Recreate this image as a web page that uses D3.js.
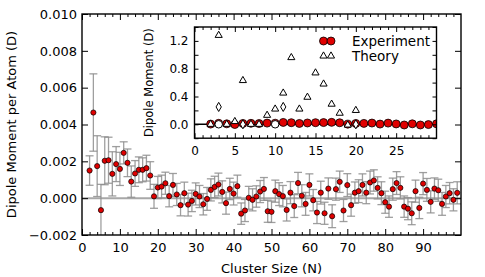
<!DOCTYPE html>
<html>
<head>
<meta charset="utf-8">
<script src="https://cdnjs.cloudflare.com/ajax/libs/d3/7.8.5/d3.min.js"></script>
<style>
  body { margin: 0; background: #fff; }
  svg { display: block; font-family: "DejaVu Sans", sans-serif; }
  .tick line { stroke: #000; stroke-width: 1; }
  .domain { display: none; }
</style>
</head>
<body>
<script>
var width = 485, height = 277

// main panel data (dipole per atom in units of 10^-3 D)
var clusterSize = [2,3,4,5,6,7,8,9,10,11,12,13,14,15,16,17,18,19,20,21,22,23,24,25,26,27,28,29,30,
  31,32,33,34,35,36,37,38,39,40,41,42,43,44,45,46,47,48,49,50,51,52,53,54,55,56,57,58,59,60,
  61,62,63,64,65,66,67,68,69,70,71,72,73,74,75,76,77,78,79,80,81,82,83,84,85,86,87,88,89,90,
  91,92,93,94,95,96,97,98,99]
var dipolePerAtom = [1.50,4.65,1.74,-0.65,2.03,2.06,1.32,1.85,1.59,2.46,1.92,0.90,1.34,1.54,1.54,1.63,1.23,0.10,0.58,
  0.63,0.81,0.11,0.72,0.20,-0.38,0.27,-0.35,-0.15,0.23,
  0.09,-0.33,-0.04,0.45,0.61,0.74,0.34,-0.27,0.50,0.25,0.65,-0.84,-0.67,0.02,-0.09,0.09,0.36,0.50,-0.71,-0.74,
  0.38,0.22,0.11,-0.64,0.30,-0.43,0.82,0.13,-0.31,0.72,-0.11,-0.78,0.30,-0.82,0.52,-0.98,0.49,0.89,-0.67,0.71,
  -0.38,0.30,0.38,0.72,0.30,0.85,0.96,0.56,0.27,-0.22,-0.46,0.49,0.82,0.56,-0.46,-0.57,-0.82,0.38,-0.53,0.79,
  0.45,-0.20,0.52,0.43,-0.31,0.09,0.27,-0.09,0.29]
var dipoleErr = [0.80,2.10,1.65,1.40,1.30,1.25,1.20,0.95,0.90,0.60,0.75,0.85,0.70,0.70,0.65,0.70,0.75,0.65,0.60,
  0.62,0.60,0.58,0.62,0.60,0.58,0.60,0.62,0.58,0.60,
  0.60,0.58,0.62,0.60,0.58,0.62,0.60,0.60,0.58,0.62,0.60,0.58,0.60,0.62,0.60,0.58,0.60,0.62,0.60,0.58,
  0.60,0.62,0.58,0.60,0.60,0.62,0.58,0.60,0.62,0.60,0.58,0.60,0.62,0.60,0.58,0.62,0.60,0.58,0.60,0.62,
  0.60,0.58,0.62,0.60,0.60,0.62,0.58,0.60,0.62,0.60,0.58,0.60,0.62,0.60,0.58,0.60,0.62,0.60,0.58,0.60,
  0.62,0.60,0.58,0.60,0.62,0.60,0.58,0.60,0.60]
var mainXTicks = [0,10,20,30,40,50,60,70,80,90]
var mainYTicks = [-2,0,2,4,6,8,10]

// inset data (total dipole, D)
var insetSize = [2,3,4,5,6,7,8,9,10,11,12,13,14,15,16,17,18,19,20,21,22,23,24,25,26,27,28,29,30]
var insetExp = [0.003,0.014,0.007,-0.003,0.012,0.014,0.011,0.017,0.016,0.027,0.023,0.012,0.019,0.023,0.025,
  0.028,0.022,0.002,0.012,0.013,0.018,0.003,0.017,0.005,-0.010,0.007,-0.010,-0.004,0.007]
var theoryTriN = [2,3,4,5,6,7,8,9,10,11,12,13,14,15,16,17,18,19,20]
var theoryTriV = [0.00,1.28,0.00,0.04,0.63,0.00,0.00,0.13,0.22,0.45,0.96,0.22,0.39,0.74,0.58,0.29,0.16,-0.01,0.20]
var theoryDiaN = [3,6,11,20]
var theoryDiaV = [0.25,0.00,0.25,0.00]
var theoryCircN = [3,10]
var theoryCircV = [0.00,0.00]
var insetXTicks = [0,5,10,15,20,25]
var insetYTicks = [0.0,0.4,0.8,1.2]

var svg = d3.select("body").append("svg")
    .attr("width", width)
    .attr("height", height)

// main scales
var x = d3.scaleLinear().domain([0, 100]).range([82, 461])
var y = d3.scaleLinear().domain([-2, 10]).range([235, 14])

var plot = svg.append("g")

// gray zero line
plot.append("line")
  .attr("x1", x(0)).attr("x2", x(100))
  .attr("y1", y(0)).attr("y2", y(0))
  .attr("stroke", "#a8a8a8").attr("stroke-width", 2)

var clip = svg.append("clipPath").attr("id", "mainclip")
  .append("rect").attr("x", x(0)).attr("y", y(10)).attr("width", x(100) - x(0)).attr("height", y(-2) - y(10))

var pts = clusterSize.map(function(n, i) {
  return {n: n, v: dipolePerAtom[i], e: dipoleErr[i]}
})

var bars = plot.append("g").attr("clip-path", "url(#mainclip)")
  .attr("stroke", "#8e8e8e").attr("stroke-width", 1.3).attr("stroke-opacity", 0.85)
pts.forEach(function(d) {
  var cx = x(d.n)
  bars.append("line").attr("x1", cx).attr("x2", cx).attr("y1", y(d.v - d.e)).attr("y2", y(d.v + d.e))
  bars.append("line").attr("x1", cx - 4).attr("x2", cx + 4).attr("y1", y(d.v - d.e)).attr("y2", y(d.v - d.e))
  bars.append("line").attr("x1", cx - 4).attr("x2", cx + 4).attr("y1", y(d.v + d.e)).attr("y2", y(d.v + d.e))
})

plot.append("g").selectAll("circle")
  .data(pts)
  .enter().append("circle")
  .attr("cx", function(d) { return x(d.n) })
  .attr("cy", function(d) { return y(d.v) })
  .attr("r", 2.6)
  .attr("fill", "#e00000")
  .attr("stroke", "#000")
  .attr("stroke-width", 0.7)

// main axes (ticks pointing inward)
var fmt = d3.format(".3f")
var minorX = d3.range(0, 101, 2).filter(function(v) { return v % 10 != 0 })

function axisGroup(axis, tx, ty, fs) {
  var g = svg.append("g").attr("transform", "translate(" + tx + "," + ty + ")").call(axis)
  g.selectAll("text").attr("font-size", fs).attr("fill", "#000").attr("font-family", "DejaVu Sans")
  return g
}

axisGroup(d3.axisBottom(x).tickValues(mainXTicks).tickSize(-6).tickPadding(8), 0, y(-2), 13)
axisGroup(d3.axisBottom(x).tickValues(minorX).tickSize(-3).tickFormat(""), 0, y(-2), 13)
axisGroup(d3.axisTop(x).tickValues(mainXTicks).tickSize(-6).tickFormat(""), 0, y(10), 13)
axisGroup(d3.axisTop(x).tickValues(minorX).tickSize(-3).tickFormat(""), 0, y(10), 13)
axisGroup(d3.axisLeft(y).tickValues(mainYTicks).tickSize(-6).tickPadding(5)
  .tickFormat(function(d) { return fmt(d / 1000) }), x(0), 0, 13)
axisGroup(d3.axisRight(y).tickValues(mainYTicks).tickSize(-6).tickFormat(""), x(100), 0, 13)

svg.append("rect")
  .attr("x", x(0)).attr("y", y(10))
  .attr("width", x(100) - x(0)).attr("height", y(-2) - y(10))
  .attr("fill", "none").attr("stroke", "#000").attr("stroke-width", 1.4)

svg.append("text")
  .attr("x", (x(0) + x(100)) / 2).attr("y", 273)
  .attr("text-anchor", "middle").attr("font-size", 13)
  .text("Cluster Size (N)")

svg.append("text")
  .attr("transform", "translate(16," + ((y(10) + y(-2)) / 2) + ") rotate(-90)")
  .attr("text-anchor", "middle").attr("font-size", 13)
  .text("Dipole Moment per Atom (D)")

// inset
var ix = d3.scaleLinear().domain([0, 30]).range([194.5, 436.5])
var iy = d3.scaleLinear().domain([-0.2, 1.4]).range([138.2, 27])

svg.append("rect")
  .attr("x", ix(0)).attr("y", iy(1.4))
  .attr("width", ix(30) - ix(0)).attr("height", iy(-0.2) - iy(1.4))
  .attr("fill", "#fff")

var inset = svg.append("g")
svg.append("clipPath").attr("id", "insetclip")
  .append("rect").attr("x", ix(0)).attr("y", iy(1.4)).attr("width", ix(30) - ix(0)).attr("height", iy(-0.2) - iy(1.4))
var ig = inset.append("g").attr("clip-path", "url(#insetclip)")

ig.append("line")
  .attr("x1", ix(0)).attr("x2", ix(30)).attr("y1", iy(0)).attr("y2", iy(0))
  .attr("stroke", "#000").attr("stroke-width", 1.5)

var expPts = insetSize.map(function(n, i) { return {n: n, v: insetExp[i]} })
ig.append("path")
  .datum(expPts)
  .attr("fill", "none").attr("stroke", "#000").attr("stroke-width", 1.3)
  .attr("d", d3.line().x(function(d) { return ix(d.n) }).y(function(d) { return iy(d.v) }))

ig.append("g").selectAll("circle")
  .data(expPts)
  .enter().append("circle")
  .attr("cx", function(d) { return ix(d.n) })
  .attr("cy", function(d) { return iy(d.v) })
  .attr("r", 4)
  .attr("fill", "#e00000").attr("stroke", "#000").attr("stroke-width", 0.8)

function theoryMarks(ns, vs, type, size) {
  ig.append("g").selectAll("path")
    .data(ns.map(function(n, i) { return {n: n, v: vs[i]} }))
    .enter().append("path")
    .attr("d", d3.symbol().type(type).size(size))
    .attr("transform", function(d) { return "translate(" + ix(d.n) + "," + iy(d.v) + ")" })
    .attr("fill", "#fff").attr("stroke", "#000").attr("stroke-width", 1)
}
theoryMarks(theoryTriN, theoryTriV, d3.symbolTriangle, 22)
theoryMarks(theoryDiaN, theoryDiaV, d3.symbolDiamond, 24)
theoryMarks(theoryCircN, theoryCircV, d3.symbolCircle, 44)

var minorIX = d3.range(0, 31, 1).filter(function(v) { return v % 5 != 0 })
var iyTicks = [-0.2, 0, 0.2, 0.4, 0.6, 0.8, 1.0, 1.2, 1.4]

axisGroup(d3.axisBottom(ix).tickValues(insetXTicks).tickSize(-5).tickPadding(8), 0, iy(-0.2), 12)
axisGroup(d3.axisBottom(ix).tickValues(minorIX).tickSize(-3).tickFormat(""), 0, iy(-0.2), 12)
axisGroup(d3.axisTop(ix).tickValues(insetXTicks).tickSize(-5).tickFormat(""), 0, iy(1.4), 12)
axisGroup(d3.axisTop(ix).tickValues(minorIX).tickSize(-3).tickFormat(""), 0, iy(1.4), 12)
axisGroup(d3.axisLeft(iy).tickValues(iyTicks).tickSize(-4).tickFormat(""), ix(0), 0, 12)
axisGroup(d3.axisLeft(iy).tickValues(insetYTicks).tickSize(0).tickPadding(6)
  .tickFormat(d3.format(".1f")), ix(0), 0, 12)
axisGroup(d3.axisRight(iy).tickValues(iyTicks).tickSize(-4).tickFormat(""), ix(30), 0, 12)

svg.append("rect")
  .attr("x", ix(0)).attr("y", iy(1.4))
  .attr("width", ix(30) - ix(0)).attr("height", iy(-0.2) - iy(1.4))
  .attr("fill", "none").attr("stroke", "#000").attr("stroke-width", 1.4)

svg.append("text")
  .attr("transform", "translate(153," + ((iy(1.4) + iy(-0.2)) / 2) + ") rotate(-90)")
  .attr("text-anchor", "middle").attr("font-size", 11.5)
  .text("Dipole Moment (D)")

// legend
var legend = svg.append("g")
;[323.5, 331].forEach(function(lx) {
  legend.append("circle").attr("cx", lx).attr("cy", 41).attr("r", 4)
    .attr("fill", "#e00000").attr("stroke", "#000").attr("stroke-width", 0.8)
  legend.append("path").attr("d", d3.symbol().type(d3.symbolTriangle).size(22))
    .attr("transform", "translate(" + lx + ",56)")
    .attr("fill", "#fff").attr("stroke", "#000").attr("stroke-width", 1)
})
legend.append("text").attr("x", 352).attr("y", 46).attr("font-size", 13.5).text("Experiment")
legend.append("text").attr("x", 352).attr("y", 61).attr("font-size", 13.5).text("Theory")
</script>
</body>
</html>
